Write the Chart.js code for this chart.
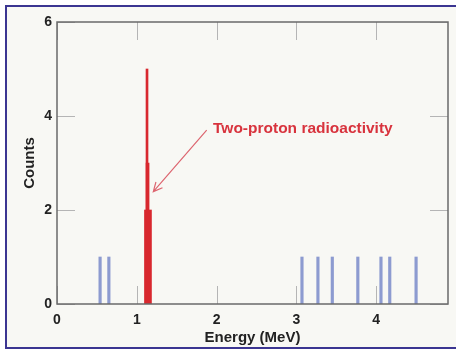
<!DOCTYPE html>
<html>
<head>
<meta charset="utf-8">
<script src="https://cdn.jsdelivr.net/npm/chart.js@4.4.1/dist/chart.umd.min.js"></script>
<style>
  html, body { margin: 0; padding: 0; background: #ffffff; }
  #wrap { width: 456px; height: 351px; }
</style>
</head>
<body>
<div id="wrap"><canvas id="spectrum" width="456" height="351"></canvas></div>
<script>
// Background events (single counts)
const bgEnergy = [0.54, 0.65, 3.07, 3.27, 3.45, 3.77, 4.06, 4.17, 4.50];
const bgCounts = [1, 1, 1, 1, 1, 1, 1, 1, 1];

// Two-proton peak, drawn as three stacked bins of different width
const peakEnergy = [1.14, 1.135, 1.128];
const peakCounts = [2, 3, 5];

const xTicks = [0, 1, 2, 3, 4];
const yTicks = [0, 2, 4, 6];

const peakLabel = "Two-proton radioactivity";
const arrowFrom = { x: 1.876, y: 3.70 };
const arrowTo = { x: 1.207, y: 2.39 };
const labelAt = { x: 1.955, y: 3.72 };

const FONT = "'Liberation Sans', Arial, Helvetica, sans-serif";

const framePlugin = {
  id: "frame",
  beforeDraw(chart) {
    const ctx = chart.ctx;
    ctx.save();
    ctx.fillStyle = "#ffffff";
    ctx.fillRect(0, 0, chart.width, chart.height);
    ctx.fillStyle = "#f8f8f4";
    ctx.fillRect(6, 6, chart.width - 6, chart.height - 9);
    ctx.strokeStyle = "#3b3591";
    ctx.lineWidth = 2;
    ctx.strokeRect(6, 6, chart.width, chart.height - 9);
    ctx.restore();
  },
  beforeDatasetsDraw(chart) {
    const { ctx, chartArea: a, scales } = chart;
    ctx.save();
    ctx.strokeStyle = "#b5b5b5";
    ctx.lineWidth = 1;
    const len = 18;
    xTicks.forEach((v) => {
      const x = Math.round(scales.x.getPixelForValue(v)) + 0.5;
      ctx.beginPath();
      ctx.moveTo(x, a.bottom); ctx.lineTo(x, a.bottom - len);
      ctx.moveTo(x, a.top); ctx.lineTo(x, a.top + len);
      ctx.stroke();
    });
    yTicks.forEach((v) => {
      const y = Math.round(scales.y.getPixelForValue(v)) + 0.5;
      ctx.beginPath();
      ctx.moveTo(a.left, y); ctx.lineTo(a.left + len, y);
      ctx.moveTo(a.right, y); ctx.lineTo(a.right - len, y);
      ctx.stroke();
    });
    ctx.restore();
  },
  afterDatasetsDraw(chart) {
    const { ctx, chartArea: a, scales } = chart;
    ctx.save();
    // plot frame
    ctx.strokeStyle = "#6a6a6a";
    ctx.lineWidth = 1.5;
    ctx.strokeRect(a.left, a.top, a.right - a.left, a.bottom - a.top);

    // arrow pointing at the peak
    const x0 = scales.x.getPixelForValue(arrowFrom.x);
    const y0 = scales.y.getPixelForValue(arrowFrom.y);
    const x1 = scales.x.getPixelForValue(arrowTo.x);
    const y1 = scales.y.getPixelForValue(arrowTo.y);
    ctx.strokeStyle = "#dd6670";
    ctx.lineWidth = 1.2;
    ctx.beginPath();
    ctx.moveTo(x0, y0);
    ctx.lineTo(x1, y1);
    const ang = Math.atan2(y1 - y0, x1 - x0);
    const h = 10;
    ctx.moveTo(x1 - h * Math.cos(ang - 0.45), y1 - h * Math.sin(ang - 0.45));
    ctx.lineTo(x1, y1);
    ctx.lineTo(x1 - h * Math.cos(ang + 0.45), y1 - h * Math.sin(ang + 0.45));
    ctx.stroke();

    ctx.fillStyle = "#d8333d";
    ctx.font = "bold 15.5px " + FONT;
    ctx.textAlign = "left";
    ctx.textBaseline = "middle";
    ctx.fillText(peakLabel, scales.x.getPixelForValue(labelAt.x), scales.y.getPixelForValue(labelAt.y));
    ctx.restore();
  },
};

const ctx = document.getElementById("spectrum").getContext("2d");
const spectrumChart = new Chart(ctx, {
  type: "bar",
  data: {
    datasets: [
      {
        label: "background",
        data: bgEnergy.map((e, i) => ({ x: e, y: bgCounts[i] })),
        backgroundColor: "#8d9bd0",
        barThickness: 2.5,
      },
      {
        label: "peak base",
        data: [{ x: peakEnergy[0], y: peakCounts[0] }],
        backgroundColor: "#d8282e",
        barThickness: 7,
      },
      {
        label: "peak mid",
        data: [{ x: peakEnergy[1], y: peakCounts[1] }],
        backgroundColor: "#d8282e",
        barThickness: 3,
      },
      {
        label: "peak top",
        data: [{ x: peakEnergy[2], y: peakCounts[2] }],
        backgroundColor: "#d8282e",
        barThickness: 2,
      },
    ],
  },
  options: {
    responsive: false,
    animation: false,
    layout: { padding: { top: 22, right: 8, bottom: 0, left: 0 } },
    datasets: {
      bar: { grouped: false },
    },
    plugins: {
      legend: { display: false },
      tooltip: { enabled: false },
    },
    scales: {
      x: {
        type: "linear",
        min: 0,
        max: 4.9,
        offset: false,
        stacked: false,
        grid: { display: false, drawTicks: false },
        border: { display: false },
        afterBuildTicks: (scale) => {
          scale.ticks = xTicks.map((v) => ({ value: v }));
        },
        afterFit: (scale) => { scale.height = 47; },
        ticks: {
          padding: 8,
          maxRotation: 0,
          color: "#222222",
          font: { family: FONT, size: 14, weight: "bold" },
        },
        title: {
          display: true,
          text: "Energy (MeV)",
          color: "#222222",
          padding: { top: 0, bottom: 4 },
          font: { family: FONT, size: 15, weight: "bold" },
        },
      },
      y: {
        min: 0,
        max: 6,
        grid: { display: false, drawTicks: false },
        border: { display: false },
        afterBuildTicks: (scale) => {
          scale.ticks = yTicks.map((v) => ({ value: v }));
        },
        afterFit: (scale) => { scale.width = 57; },
        ticks: {
          padding: 5,
          color: "#222222",
          font: { family: FONT, size: 14, weight: "bold" },
        },
        title: {
          display: true,
          text: "Counts",
          color: "#222222",
          padding: { top: 21, bottom: 0 },
          font: { family: FONT, size: 15, weight: "bold" },
        },
      },
    },
  },
  plugins: [framePlugin],
});
</script>
</body>
</html>
